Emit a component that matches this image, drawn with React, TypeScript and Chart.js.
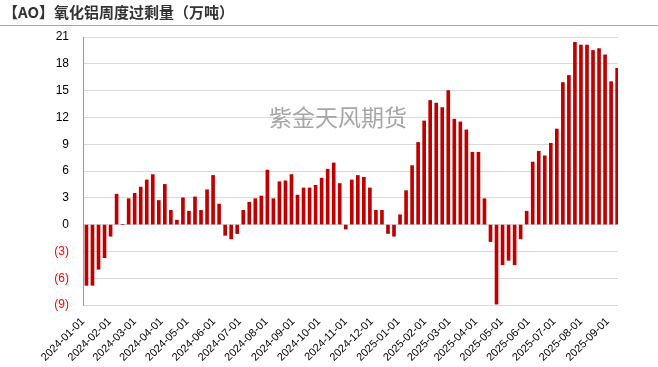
import React, { useEffect, useRef } from "react";
import { Chart, registerables } from "chart.js";

Chart.register(...registerables);

const TITLE = "【AO】氧化铝周度过剩量（万吨）";
const WATERMARK = "紫金天风期货";

// first weekly observation; each bar is one week later than the previous
const FIRST_WEEK = "2024-01-05";
const AXIS_START = "2024-01-01";
const AXIS_END = "2025-09-13";

const weeklySurplus: number[] = [
  -6.8, -6.8, -5.0, -3.7, -1.3, 3.4, 0, 2.9, 3.5, 4.2,
  5.0, 5.6, 2.7, 4.5, 1.6, 0.5, 3.0, 1.5, 3.1, 1.6,
  3.9, 5.5, 2.3, -1.2, -1.6, -1.0, 1.6, 2.5, 2.9, 3.2,
  6.1, 2.9, 4.8, 4.9, 5.6, 3.3, 4.1, 4.1, 4.4, 5.2,
  6.2, 6.9, 4.6, -0.5, 5.0, 5.5, 5.3, 4.1, 1.6, 1.6,
  -1.0, -1.3, 1.1, 3.8, 6.6, 9.2, 11.6, 13.9, 13.6, 13.1,
  15.0, 11.8, 11.5, 10.6, 8.1, 8.1, 2.9, -1.9, -8.9, -4.5,
  -4.0, -4.5, -1.6, 1.5, 7.0, 8.2, 7.7, 9.1, 10.7, 15.9,
  16.7, 20.4, 20.1, 20.1, 19.5, 19.7, 19.0, 16.0, 17.5,
];

const monthTicks: string[] = [
  "2024-01-01", "2024-02-01", "2024-03-01", "2024-04-01", "2024-05-01",
  "2024-06-01", "2024-07-01", "2024-08-01", "2024-09-01", "2024-10-01",
  "2024-11-01", "2024-12-01", "2025-01-01", "2025-02-01", "2025-03-01",
  "2025-04-01", "2025-05-01", "2025-06-01", "2025-07-01", "2025-08-01",
  "2025-09-01",
];

const Y_MIN = -9;
const Y_MAX = 21;
const Y_STEP = 3;

const DAY = 86400000;
const toMs = (s: string) => {
  const [y, m, d] = s.split("-").map(Number);
  return Date.UTC(y, m - 1, d);
};
const dayIndex = (s: string) => Math.round((toMs(s) - toMs(AXIS_START)) / DAY);

export default function App() {
  const ref = useRef<HTMLCanvasElement | null>(null);

  useEffect(() => {
    if (!ref.current) return;
    const first = dayIndex(FIRST_WEEK);
    const points = weeklySurplus.map((v, i) => ({ x: first + i * 7, y: v }));
    const tickDays = monthTicks.map(dayIndex);
    const tickLabel = new Map<number, string>();
    monthTicks.forEach((t, i) => tickLabel.set(tickDays[i], t));

    const chart = new Chart(ref.current, {
      type: "bar",
      data: {
        datasets: [
          {
            data: points as any,
            backgroundColor: "#c00000",
            barThickness: 3,
            borderWidth: 0,
          },
        ],
      },
      options: {
        animation: false,
        responsive: false,
        maintainAspectRatio: false,
        layout: { padding: { top: 37, right: 40, left: 0, bottom: 0 } },
        plugins: {
          legend: { display: false },
          tooltip: { enabled: false },
          title: { display: false },
        },
        scales: {
          x: {
            type: "linear",
            min: 0,
            max: dayIndex(AXIS_END),
            offset: false,
            grid: { display: false, drawTicks: false },
            border: { display: false },
            afterBuildTicks: (scale: any) => {
              scale.ticks = tickDays.map((v) => ({ value: v }));
            },
            afterFit: (scale: any) => {
              scale.height = 62;
            },
            ticks: {
              autoSkip: false,
              minRotation: 45,
              maxRotation: 45,
              padding: 10,
              color: "#000",
              font: { family: "Liberation Sans", size: 11 },
              callback: (v: any) => tickLabel.get(Number(v)) ?? "",
            },
          },
          y: {
            min: Y_MIN,
            max: Y_MAX,
            grid: { color: "#d9d9d9", lineWidth: 1, drawTicks: false },
            border: { display: true, color: "#999999", width: 1 },
            afterFit: (scale: any) => {
              scale.width = 83;
            },
            ticks: {
              stepSize: Y_STEP,
              padding: 14,
              font: { family: "Liberation Sans", size: 12 },
              color: (ctx: any) => (ctx.tick && ctx.tick.value < 0 ? "#ff0000" : "#000000"),
              callback: (v: any) => (Number(v) < 0 ? `(${-Number(v)})` : `${v}`),
            },
          },
        },
      },
    });
    return () => chart.destroy();
  }, []);

  return (
    <div
      style={{
        position: "fixed",
        left: 0,
        top: 0,
        width: 658,
        height: 367,
        background: "#ffffff",
        overflow: "hidden",
      }}
    >
      <canvas ref={ref} width={658} height={367} style={{ position: "absolute", left: 0, top: 0 }} />
      <div
        style={{
          position: "absolute",
          left: 3,
          top: 2,
          fontFamily: "'Noto Sans CJK SC', sans-serif",
          fontWeight: "bold",
          fontSize: 15,
          lineHeight: "20px",
          color: "#333333",
          whiteSpace: "nowrap",
        }}
      >
        {TITLE}
      </div>
      <div
        style={{
          position: "absolute",
          left: 0,
          top: 25,
          width: 658,
          height: 1,
          background: "#a6a6a6",
        }}
      />
      <div
        style={{
          position: "absolute",
          left: 269,
          top: 101,
          fontFamily: "'Noto Sans CJK SC', sans-serif",
          fontSize: 23,
          lineHeight: "30px",
          color: "#a6a6a6",
          whiteSpace: "nowrap",
          pointerEvents: "none",
        }}
      >
        {WATERMARK}
      </div>
    </div>
  );
}
